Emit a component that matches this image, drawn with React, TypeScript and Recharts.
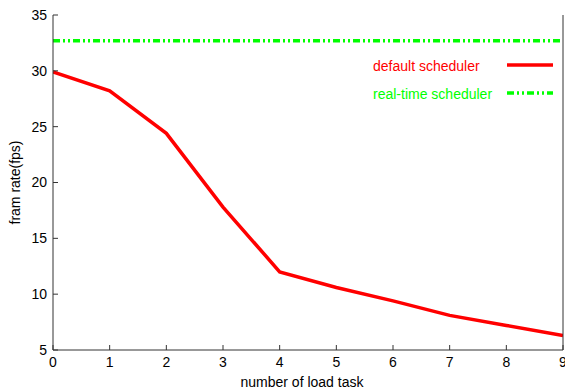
import React from 'react';
import { LineChart, Line, XAxis, YAxis } from 'recharts';

const xValues = [0, 1, 2, 3, 4, 5, 6, 7, 8, 9];
const defaultScheduler = [29.9, 28.2, 24.4, 17.8, 12.0, 10.6, 9.4, 8.1, 7.2, 6.3];
const realtimeScheduler = [32.7, 32.7, 32.7, 32.7, 32.7, 32.7, 32.7, 32.7, 32.7, 32.7];
const yTicks = [5, 10, 15, 20, 25, 30, 35];
const xTicks = [0, 1, 2, 3, 4, 5, 6, 7, 8, 9];
const seriesNames = ['default scheduler', 'real-time scheduler'];

const data = xValues.map((x, i) => ({
  x,
  def: defaultScheduler[i],
  rt: realtimeScheduler[i],
}));

const FONT = '"Liberation Sans", Arial, Helvetica, sans-serif';
const AXIS = '#333';
const RED = '#ff0000';
const GREEN = '#00ff00';
const DASH = '7 3 2 3 2 3';

const tickStyle = { fontFamily: FONT, fontSize: 14, fill: '#000' };

const LegendBox = () => (
  <div style={{ position: 'absolute', left: 373, top: 56, width: 190, height: 60, fontFamily: FONT, fontSize: 14 }}>
    <div style={{ position: 'absolute', left: 0, top: 0, color: RED, lineHeight: '20px', whiteSpace: 'nowrap' }}>{seriesNames[0]}</div>
    <svg style={{ position: 'absolute', left: 134, top: 0 }} width={46} height={20}>
      <line x1={0} y1={9} x2={46} y2={9} stroke={RED} strokeWidth={3.5} />
    </svg>
    <div style={{ position: 'absolute', left: 0, top: 28, color: GREEN, lineHeight: '20px', whiteSpace: 'nowrap' }}>{seriesNames[1]}</div>
    <svg style={{ position: 'absolute', left: 134, top: 28 }} width={46} height={20}>
      <line x1={0} y1={9} x2={46} y2={9} stroke={GREEN} strokeWidth={3.5} strokeDasharray={DASH} />
    </svg>
  </div>
);

export default function App() {
  return (
    <div style={{ position: 'absolute', left: 0, top: 0, width: 565, height: 392, fontFamily: FONT, background: '#fff' }}>
      <LineChart width={565} height={392} data={data} margin={{ top: 15, right: 0, bottom: 0, left: 0 }}>
        <XAxis
          dataKey="x"
          type="number"
          domain={[0, 9]}
          ticks={xTicks}
          height={42}
          tickSize={-5}
          tickMargin={12}
          stroke={AXIS}
          tick={tickStyle}
          interval={0}
          allowDataOverflow
          label={{ value: 'number of load task', position: 'insideBottom', offset: 5, dx: -6, style: { fontFamily: FONT, fontSize: 14, fill: '#000' } }}
        />
        <XAxis
          xAxisId="top"
          orientation="top"
          dataKey="x"
          type="number"
          domain={[0, 9]}
          ticks={xTicks}
          height={0}
          tickSize={-5}
          stroke={AXIS}
          tickFormatter={() => ''}
          interval={0}
        />
        <YAxis
          type="number"
          domain={[5, 35]}
          ticks={yTicks}
          width={53}
          tickSize={-5}
          tickMargin={11}
          stroke={AXIS}
          tick={tickStyle}
          interval={0}
          allowDataOverflow
          label={{
            content: (props: any) => {
              const vb = props.viewBox || {};
              const cx = (vb.x || 0) + 15;
              const cy = (vb.y || 0) + (vb.height || 0) / 2;
              return (
                <text x={cx} y={cy} transform={`rotate(-90 ${cx} ${cy})`} textAnchor="middle" dominantBaseline="central" fontFamily={FONT} fontSize={14} fill="#000">
                  fram rate(fps)
                </text>
              );
            },
          }}
        />
        <YAxis
          yAxisId="right"
          orientation="right"
          type="number"
          domain={[5, 35]}
          ticks={yTicks}
          width={2}
          tickSize={-5}
          stroke={AXIS}
          tickFormatter={() => ''}
          interval={0}
        />
        <Line dataKey="def" name={seriesNames[0]} stroke={RED} strokeWidth={3.5} dot={false} isAnimationActive={false} />
        <Line dataKey="rt" name={seriesNames[1]} stroke={GREEN} strokeWidth={3.5} strokeDasharray={DASH} dot={false} isAnimationActive={false} />
      </LineChart>
      <LegendBox />
    </div>
  );
}
